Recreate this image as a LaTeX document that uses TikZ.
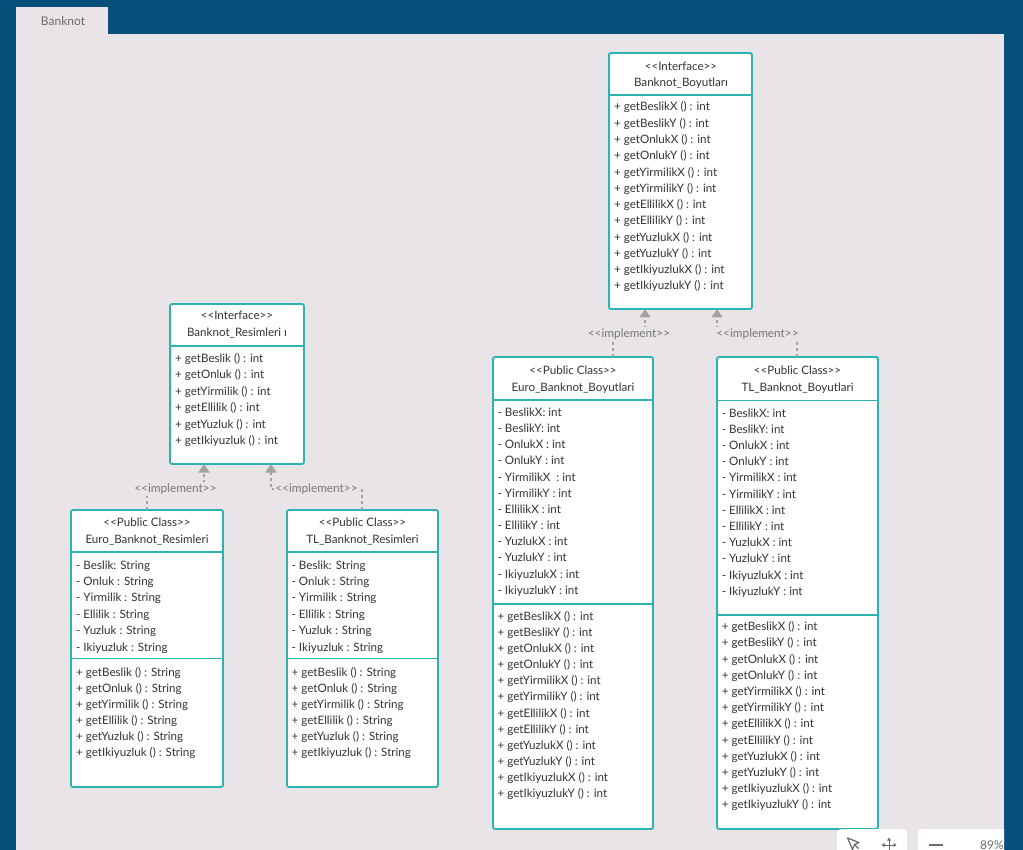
\documentclass[tikz,border=0pt]{standalone}
\usepackage{fontspec}
\newfontfamily\lato{Lato}
\usetikzlibrary{arrows.meta,calc}
\definecolor{bgblue}{HTML}{054F7A}
\definecolor{canvasc}{HTML}{E8E4E8}
\definecolor{umlteal}{HTML}{2BB3B1}
\definecolor{txtc}{HTML}{333333}
\definecolor{lblc}{HTML}{777777}
\definecolor{dashc}{HTML}{A3A3A3}
\definecolor{iconc}{HTML}{6A6A6A}
\tikzset{
 umlbox/.style={draw=umlteal, line width=1.8pt, fill=white, rounded corners=2pt, anchor=north west, inner sep=0pt, outer sep=0pt},
 divider/.style={draw=umlteal, line width=1.8pt},
 itemtxt/.style={anchor=base west, inner sep=0pt, font=\lato\fontsize{11.6}{13}\selectfont, text=txtc},
 hdrtxt/.style={anchor=base, inner sep=0pt, font=\lato\fontsize{11.6}{13}\selectfont, text=txtc},
 impl/.style={draw=dashc, line width=1.5pt, dash pattern=on 3pt off 3pt, -{Triangle[width=11pt,length=8.5pt,fill=dashc]}},
 impllabel/.style={fill=canvasc, inner sep=1.5pt, font=\lato\fontsize{11.8}{13}\selectfont, text=lblc},
 tabtxt/.style={inner sep=0pt, font=\lato\fontsize{12}{14}\selectfont, text=iconc},
 ctrlbox/.style={fill=white, rounded corners=4pt},
 ctrltxt/.style={anchor=base, inner sep=0pt, font=\lato\fontsize{12}{14}\selectfont, text=iconc},
}
\newcommand\umlitems[5]{%
 \foreach \t [count=\i] in {#5} {\node[itemtxt] (#1\i) at ({#2},{#3+#4*(\i-1)}) {\t};}}
\begin{document}
\begin{tikzpicture}[x=1pt,y=-1pt]
\useasboundingbox (0,0) rectangle (1023,850);
\fill[bgblue] (0,0) rectangle (1023,850);
\fill[canvasc] (16,34) rectangle (1004,850);
\fill[canvasc] (16,7) rectangle (108,34);
\node[tabtxt] (tab) at (63,21.5) {Banknot};

% ---------- boxes ----------
\node[umlbox, minimum width=143pt, minimum height=256pt] (bboy) at (609,53) {};
\node[umlbox, minimum width=134pt, minimum height=160pt] (bres) at (170,304) {};
\node[umlbox, minimum width=152pt, minimum height=277pt] (eres) at (71,510) {};
\node[umlbox, minimum width=151pt, minimum height=277pt] (tres) at (287,510) {};
\node[umlbox, minimum width=160pt, minimum height=472pt] (eboy) at (493,357) {};
\node[umlbox, minimum width=161pt, minimum height=472pt] (tboy) at (717,357) {};

% dividers
\draw[divider] (bboy.west |- 0,95) -- (bboy.east |- 0,95);
\draw[divider] (bres.west |- 0,346) -- (bres.east |- 0,346);
\draw[divider] (eres.west |- 0,552) -- (eres.east |- 0,552);
\draw[divider] (eres.west |- 0,658.5) -- (eres.east |- 0,658.5);
\draw[divider] (tres.west |- 0,552) -- (tres.east |- 0,552);
\draw[divider] (tres.west |- 0,658.5) -- (tres.east |- 0,658.5);
\draw[divider] (eboy.west |- 0,400) -- (eboy.east |- 0,400);
\draw[divider] (eboy.west |- 0,604) -- (eboy.east |- 0,604);
\draw[divider] (tboy.west |- 0,400.5) -- (tboy.east |- 0,400.5);
\draw[divider] (tboy.west |- 0,615) -- (tboy.east |- 0,615);

% headers
\node[hdrtxt] (bboyS) at (681,70.5) {<<Interface>>};
\node[hdrtxt] (bboyN) at (681,86.5) {Banknot\_Boyutları};
\node[hdrtxt] (bresS) at (237,319.5) {<<Interface>>};
\node[hdrtxt] (bresN) at (237,336.5) {Banknot\_Resimleri ı};
\node[hdrtxt] (eresS) at (147,526.5) {<<Public Class>>};
\node[hdrtxt] (eresN) at (147,543.5) {Euro\_Banknot\_Resimleri};
\node[hdrtxt] (tresS) at (362.5,526.5) {<<Public Class>>};
\node[hdrtxt] (tresN) at (362.5,543.5) {TL\_Banknot\_Resimleri};
\node[hdrtxt] (eboyS) at (573,374.3) {<<Public Class>>};
\node[hdrtxt] (eboyN) at (573,391.5) {Euro\_Banknot\_Boyutlari};
\node[hdrtxt] (tboyS) at (797.5,374.3) {<<Public Class>>};
\node[hdrtxt] (tboyN) at (797.5,391.5) {TL\_Banknot\_Boyutlari};

% items
\umlitems{bboyM}{614}{111}{16.27}{+ getBeslikX () : int,+ getBeslikY () : int,+ getOnlukX () : int,+ getOnlukY () : int,+ getYirmilikX () : int,+ getYirmilikY () : int,+ getEllilikX () : int,+ getEllilikY () : int,+ getYuzlukX () : int,+ getYuzlukY () : int,+ getIkiyuzlukX () : int,+ getIkiyuzlukY () : int}
\umlitems{bresM}{175}{362.5}{16.4}{+ getBeslik () : int,+ getOnluk () : int,+ getYirmilik () : int,+ getEllilik () : int,+ getYuzluk () : int,+ getIkiyuzluk () : int}
\umlitems{eresA}{76}{569}{16.4}{- Beslik: String,- Onluk : String,- Yirmilik : String,- Ellilik : String,- Yuzluk : String,- Ikiyuzluk : String}
\umlitems{eresM}{76}{676}{16.15}{+ getBeslik () : String,+ getOnluk () : String,+ getYirmilik () : String,+ getEllilik () : String,+ getYuzluk () : String,+ getIkiyuzluk () : String}
\umlitems{tresA}{291.5}{569}{16.4}{- Beslik: String,- Onluk : String,- Yirmilik : String,- Ellilik : String,- Yuzluk : String,- Ikiyuzluk : String}
\umlitems{tresM}{291.5}{676}{16.15}{+ getBeslik () : String,+ getOnluk () : String,+ getYirmilik () : String,+ getEllilik () : String,+ getYuzluk () : String,+ getIkiyuzluk () : String}
\umlitems{eboyA}{497.5}{416.3}{16.18}{- BeslikX: int,- BeslikY: int,- OnlukX : int,- OnlukY : int,- YirmilikX~ : int,- YirmilikY : int,- EllilikX : int,- EllilikY : int,- YuzlukX : int,- YuzlukY : int,- IkiyuzlukX : int,- IkiyuzlukY : int}
\umlitems{eboyM}{497.5}{620}{16.18}{+ getBeslikX () : int,+ getBeslikY () : int,+ getOnlukX () : int,+ getOnlukY () : int,+ getYirmilikX () : int,+ getYirmilikY () : int,+ getEllilikX () : int,+ getEllilikY () : int,+ getYuzlukX () : int,+ getYuzlukY () : int,+ getIkiyuzlukX () : int,+ getIkiyuzlukY () : int}
\umlitems{tboyA}{721.7}{417}{16.2}{- BeslikX: int,- BeslikY: int,- OnlukX : int,- OnlukY : int,- YirmilikX : int,- YirmilikY : int,- EllilikX : int,- EllilikY : int,- YuzlukX : int,- YuzlukY : int,- IkiyuzlukX : int,- IkiyuzlukY : int}
\umlitems{tboyM}{721.7}{630.7}{16.2}{+ getBeslikX () : int,+ getBeslikY () : int,+ getOnlukX () : int,+ getOnlukY () : int,+ getYirmilikX () : int,+ getYirmilikY () : int,+ getEllilikX () : int,+ getEllilikY () : int,+ getYuzlukX () : int,+ getYuzlukY () : int,+ getIkiyuzlukX () : int,+ getIkiyuzlukY () : int}

% ---------- connectors ----------
\draw[impl] ($(eres.north west)+(76,0)$) -- ++(0,-21) -| ($(bres.south west)+(34,0)$);
\draw[impl] ($(tres.north west)+(75,0)$) -- ++(0,-21) -| ($(bres.south west)+(101,0)$);
\draw[impl] ($(eboy.north west)+(120,0)$) -- ++(0,-23) -| ($(bboy.south west)+(36,0)$);
\draw[impl] ($(tboy.north west)+(80,0)$) -- ++(0,-23) -| ($(bboy.south west)+(108,0)$);
\node[impllabel] (L1) at (175.5,489) {<<implement>>};
\node[impllabel] (L2) at (316.5,489) {<<implement>>};
\node[impllabel] (L3) at (629,334) {<<implement>>};
\node[impllabel] (L4) at (757.5,334) {<<implement>>};

% ---------- controls ----------
\begin{scope}
\clip (0,0) rectangle (1004,850);
\fill[ctrlbox] (837,829) rectangle (907,862);
\fill[ctrlbox] (918,829) rectangle (1012,862);
\draw[iconc, line width=1.2pt, line join=round] (847.5,838) -- (859,842.5) -- (854.5,844.5) -- (852.5,849.5) -- cycle;
\draw[iconc, line width=1.2pt] (854.5,844.5) -- (858.5,848.5);
\draw[iconc, line width=1pt] (883,845) -- (895,845) (889,839) -- (889,851);
\fill[iconc] (881.5,845) -- (884.5,843) -- (884.5,847) -- cycle;
\fill[iconc] (896.5,845) -- (893.5,843) -- (893.5,847) -- cycle;
\fill[iconc] (889,837.5) -- (887,840.5) -- (891,840.5) -- cycle;
\draw[iconc, line width=1.3pt] (928.5,845) -- (943,845);
\node[ctrltxt] (zoomval) at (992,849.5) {89\%};
\end{scope}
\end{tikzpicture}
\end{document}
